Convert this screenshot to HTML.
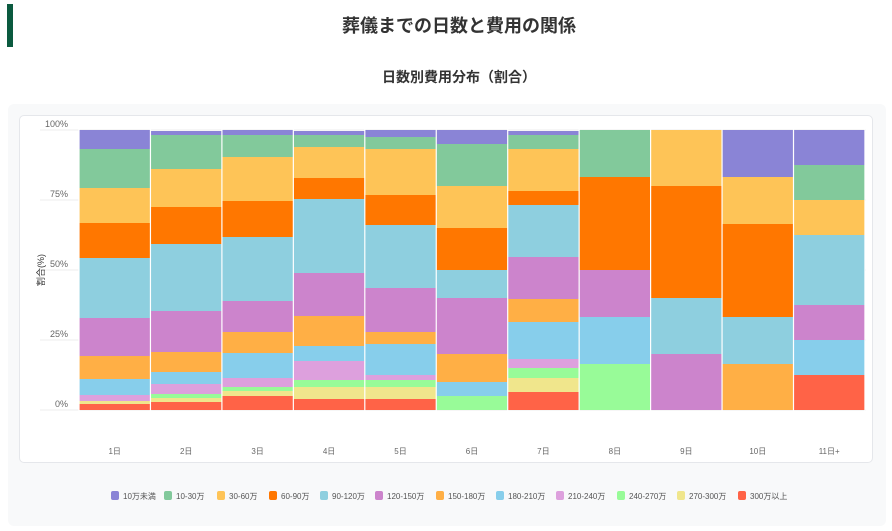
<!DOCTYPE html>
<html><head><meta charset="utf-8">
<style>
body{margin:0;width:892px;height:531px;background:#fff;font-family:"Liberation Sans","Noto Sans CJK JP",sans-serif;overflow:hidden;position:relative}
.bar{position:absolute;left:7px;top:4px;width:6px;height:43px;background:#0b5a3f}
.t1{position:absolute;top:12px;left:0;width:918px;text-align:center;font-size:18px;font-weight:bold;color:#333}
.t2{position:absolute;top:67px;left:0;width:918px;text-align:center;font-size:14px;font-weight:bold;color:#333}
.card{position:absolute;left:8px;top:104px;width:878px;height:422px;background:#f8f9fa;border-radius:6px}
.inner{position:absolute;left:19px;top:115px;width:854px;height:348px;background:#fff;border:1px solid #e5e7eb;border-radius:5px;box-sizing:border-box}
svg{position:absolute;left:0;top:0}
</style></head><body>
<div class="bar"></div>
<div class="t1">葬儀までの日数と費用の関係</div>
<div class="t2">日数別費用分布（割合）</div>
<div class="card"></div>
<div class="inner"></div>
<svg id="s" width="892" height="531" font-family="Liberation Sans, Noto Sans CJK JP, sans-serif"></svg>
<script>
const C={A:"#8A84D6",B:"#82C99B",C:"#FEC457",D:"#FF7700",E:"#8ECFDF",F:"#CC84CC",G:"#FFAF45",H:"#87CEEB",I:"#DDA0DD",J:"#98FB98",K:"#F0E68C",L:"#FF6347"};
const bars=[
"L404K401I395H379G356F318E258D223C188B149A130",
"L402K398J394I384H372G352F311E244D207C169B135A131",
"L396K391J387I378H353G332F301E237D201C157B135A130",
"L399K387J380I361H346G316F273E199D178C147B135A131",
"L399K387J380I375H344G332F288E225D195C149B137A130",
"J396H382G354F298E270D228C186B144A130",
"L392K378J368I359H322G299F257E205D191C149B135A131",
"J364H317F270D177B130",
"F354E298D186C130",
"G364E317D224C177A130",
"L375H340F305E235C200B165A130"];
const labels=["1日","2日","3日","4日","5日","6日","7日","8日","9日","10日","11日+"];
let s="";
[[130,"100%"],[200,"75%"],[270,"50%"],[340,"25%"],[410,"0%"]].forEach(([y,t])=>{
s+=`<line x1="40" x2="866" y1="${y}" y2="${y}" stroke="#eee"/><text x="68" y="${y-3}" font-size="9" fill="#666" text-anchor="end">${t}</text>`;});
const w=71.45;
bars.forEach((b,i)=>{
 const x=79+i*w;let bottom=410;
 const re=/([A-L])(\d+)/g;let m;
 while((m=re.exec(b))){const top=+m[2];s+=`<rect x="${x.toFixed(2)}" y="${top}" width="${w.toFixed(2)}" height="${bottom-top}" fill="${C[m[1]]}"/>`;bottom=top;}
 s+=`<text x="${(x+w/2).toFixed(1)}" y="454" font-size="8" fill="#666" text-anchor="middle">${labels[i]}</text>`;
});
for(let i=0;i<=11;i++){const x=79+i*w;s+=`<line x1="${x.toFixed(2)}" x2="${x.toFixed(2)}" y1="128" y2="411" stroke="#fff" stroke-width="1.2"/>`;}
s+=`<text transform="translate(44,270) rotate(-90)" font-size="9" fill="#333" text-anchor="middle">割合(%)</text>`;
const leg=[["A","10万未満",111],["B","10-30万",164],["C","30-60万",217],["D","60-90万",269],["E","90-120万",320],["F","120-150万",375],["G","150-180万",436],["H","180-210万",496],["I","210-240万",556],["J","240-270万",617],["K","270-300万",677],["L","300万以上",738]];
leg.forEach(([k,t,x])=>{s+=`<rect x="${x}" y="491" width="8" height="9" rx="2" fill="${C[k]}"/><text x="${x+12}" y="499" font-size="8" fill="#555">${t}</text>`;});
document.getElementById("s").innerHTML=s;
</script>
</body></html>
